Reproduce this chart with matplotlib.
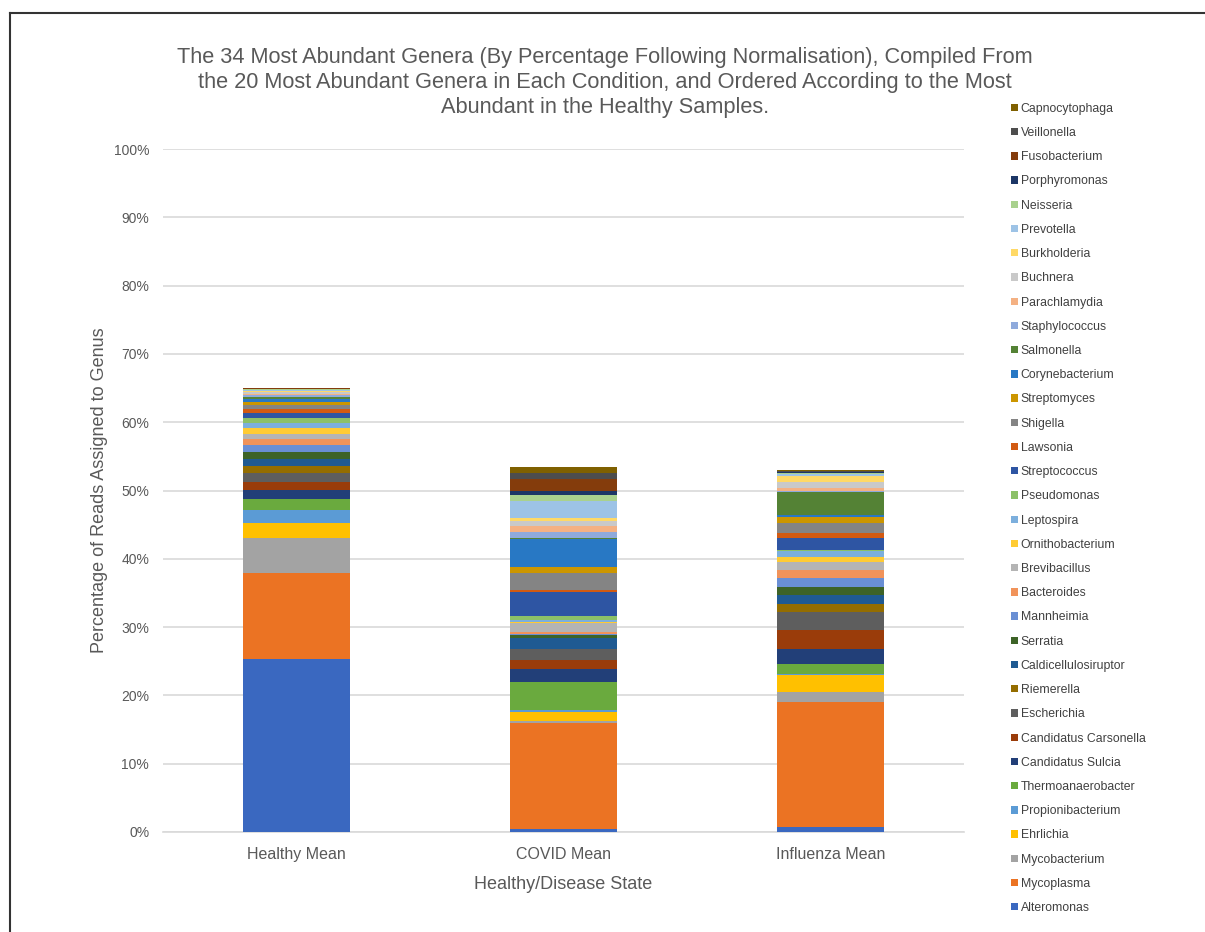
import matplotlib.pyplot as plt
from matplotlib.lines import Line2D
from matplotlib.patches import Patch

plt.rcParams['font.family'] = ['Liberation Sans', 'DejaVu Sans']

conditions = ['Healthy Mean', 'COVID Mean', 'Influenza Mean']

# genera listed bottom of stack -> top of stack
genera = [
    'Alteromonas', 'Mycoplasma', 'Mycobacterium', 'Ehrlichia', 'Propionibacterium',
    'Thermoanaerobacter', 'Candidatus Sulcia', 'Candidatus Carsonella', 'Escherichia',
    'Riemerella', 'Caldicellulosiruptor', 'Serratia', 'Mannheimia', 'Bacteroides',
    'Brevibacillus', 'Ornithobacterium', 'Leptospira', 'Pseudomonas', 'Streptococcus',
    'Lawsonia', 'Shigella', 'Streptomyces', 'Corynebacterium', 'Salmonella',
    'Staphylococcus', 'Parachlamydia', 'Buchnera', 'Burkholderia', 'Prevotella',
    'Neisseria', 'Porphyromonas', 'Fusobacterium', 'Veillonella', 'Capnocytophaga',
]

# mean percentage of reads per genus, same order as genera
healthy = [25.4, 12.5, 5.2, 2.2, 1.9, 1.56, 1.37, 1.1, 1.3, 1.0, 1.07, 1.07, 0.93, 1.0,
           0.63, 0.88, 0.78, 0.78, 0.68, 0.63, 0.49, 0.49, 0.49, 0.3, 0.2, 0.25, 0.2,
           0.2, 0.15, 0.1, 0.05, 0.05, 0.05, 0.05]
covid = [0.4, 15.5, 0.34, 1.37, 0.25, 4.15, 1.85, 1.27, 1.6, 0.05, 1.6, 0.5, 0.05, 0.4,
         1.3, 0.05, 0.4, 0.6, 3.5, 0.25, 2.45, 0.97, 4.05, 0.2, 0.88, 0.83, 0.73,
         0.49, 2.5, 0.83, 0.63, 1.7, 0.93, 0.88]
influenza = [0.7, 18.35, 1.46, 2.44, 0.25, 1.46, 2.2, 2.68, 2.68, 1.22, 1.22, 1.22, 1.37,
             1.07, 1.22, 0.73, 0.88, 0.2, 1.7, 0.73, 1.46, 0.88, 0.25, 3.4, 0.1, 0.5,
             0.83, 0.98, 0.25, 0.15, 0.1, 0.1, 0.1, 0.1]

colors = [
    '#3A68C0', '#EB7323', '#A3A3A3', '#FFC000', '#5B9BD5', '#6AAA3E', '#223F78',
    '#9A3C0A', '#5E5E5E', '#946D00', '#1F5A92', '#3D6327', '#6A8FD4', '#F1935A',
    '#B4B4B4', '#FFCB33', '#7CAFDD', '#8CC168', '#2E55A3', '#D25A12', '#848484',
    '#CC9600', '#2878C4', '#548235', '#8FAADC', '#F4B183', '#C9C9C9', '#FFD966',
    '#9DC3E6', '#A9D18E', '#1C3666', '#843C0C', '#4D4D4D', '#7F6000',
]

title_lines = [
    'The 34 Most Abundant Genera (By Percentage Following Normalisation), Compiled From',
    'the 20 Most Abundant Genera in Each Condition, and Ordered According to the Most',
    'Abundant in the Healthy Samples.',
]

fig = plt.figure(figsize=(12.05, 9.32), dpi=100)
ax = fig.add_axes([0.1353, 0.1073, 0.7997 - 0.1353, 0.840 - 0.1073])

x = range(len(conditions))
bottoms = [0.0, 0.0, 0.0]
for i, name in enumerate(genera):
    vals = [healthy[i], covid[i], influenza[i]]
    ax.bar(x, vals, width=0.4, bottom=bottoms, color=colors[i], label=name,
           linewidth=0, zorder=3)
    bottoms = [b + v for b, v in zip(bottoms, vals)]

ax.set_xlim(-0.5, 2.5)
ax.set_ylim(0, 100)
ax.set_yticks(range(0, 101, 10))
ax.set_yticklabels([f'{t}%' for t in range(0, 101, 10)])
ax.set_xticks(list(x))
ax.set_xticklabels(conditions)
ax.yaxis.grid(True, color='#D9D9D9', linewidth=1.2, zorder=0)
ax.set_axisbelow(True)
for s in ['top', 'right', 'left']:
    ax.spines[s].set_visible(False)
ax.spines['bottom'].set_color('#D9D9D9')
ax.spines['bottom'].set_linewidth(1.2)
ax.tick_params(axis='both', length=0, colors='#595959')
ax.tick_params(axis='y', labelsize=10, pad=10)
ax.tick_params(axis='x', labelsize=11.5, pad=11)

ax.set_xlabel('Healthy/Disease State', fontsize=13, color='#595959', labelpad=10)
ax.set_ylabel('Percentage of Reads Assigned to Genus', fontsize=13, color='#595959',
              labelpad=4)

# title, one line at a time (25 px apart)
for k, line in enumerate(title_lines):
    fig.text(0.502, 1 - (63 + 25 * k) / 932, line, ha='center', va='baseline',
             fontsize=15.7, color='#595959')

# legend, top entry is the top of the stack
handles = [Patch(facecolor=c, edgecolor='none') for c in colors][::-1]
leg = fig.legend(handles, genera[::-1], loc='upper left',
                 bbox_to_anchor=(0.835, 0.895), frameon=False, fontsize=8.8,
                 handlelength=0.55, handleheight=0.55, handletextpad=0.25,
                 labelspacing=1.0, borderaxespad=0)
for t in leg.get_texts():
    t.set_color('#404040')

# frame around the chart
fig.add_artist(Line2D([10 / 1205, 10 / 1205], [0, 1 - 13 / 932],
                      transform=fig.transFigure, color='#333333', linewidth=1.5))
fig.add_artist(Line2D([10 / 1205, 1], [1 - 13 / 932, 1 - 13 / 932],
                      transform=fig.transFigure, color='#333333', linewidth=1.5))

fig.savefig('out.png', dpi=100, facecolor='white')
